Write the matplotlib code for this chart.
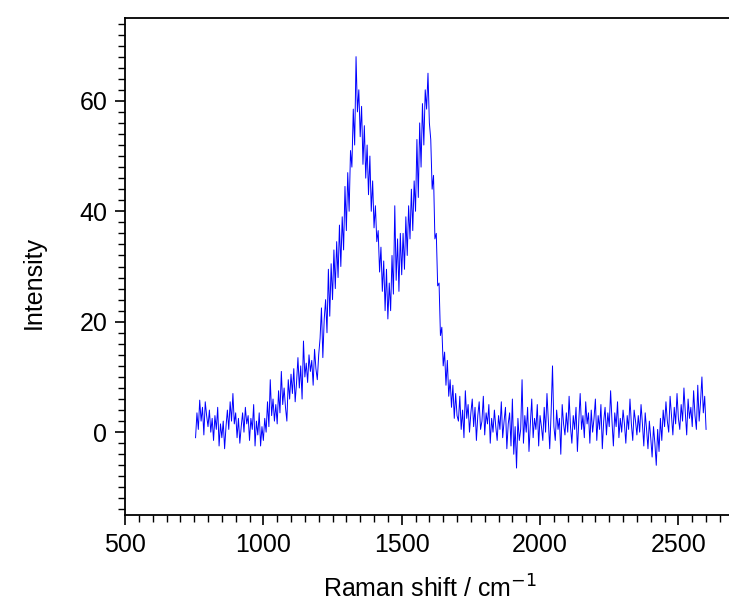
import numpy as np
import matplotlib
matplotlib.use("Agg")
import matplotlib.pyplot as plt
from matplotlib.ticker import MultipleLocator

plt.rcParams['font.family'] = ['Liberation Sans', 'DejaVu Sans']

# Raman shift start/step (cm^-1)
shift_start = 755
shift_step = 5

# Intensity values, by region
seg_baseline_low = [
    -1.0, 3.5, 0.5, 5.8, 2.0, 4.5, -0.5, 5.5, 3.0, 1.0,
    4.0, 0.0, 2.5, -1.5, 3.0, 0.5, 4.5, -2.5, 1.5, -1.0,
    2.0, -3.0, 1.0, 4.0, 0.5, 5.5, 2.0, 7.0, 1.5, 3.5,
    -1.0, 2.5, -2.0, 1.0, 3.5, 0.0, 4.5, 1.5, 3.0, -1.5,
    2.5, 0.5, 5.0, -2.5, 2.0, -0.5, 3.5, -2.5, 1.0, -1.5,
]
seg_rise1 = [
    2.5, 0.0, 5.5, 1.0, 9.5, 3.0, 6.0, 2.0, 5.0, 1.5,
    7.5, 3.5, 11.0, 5.0, 8.0, 4.5, 2.0, 9.5, 6.0, 10.5,
]
seg_shoulder = [
    7.0, 11.5, 5.5, 9.0, 13.5, 8.0, 12.0, 6.0, 16.5, 10.0,
    12.5, 9.0, 14.0, 11.0, 13.0, 8.5, 15.0, 11.5, 9.5, 14.0,
]
seg_rise2 = [
    17.0, 22.5, 13.5, 20.5, 24.0, 18.0, 29.5, 21.0, 30.5, 24.0,
    33.0, 26.0, 34.5, 28.0, 37.5, 30.0, 39.0, 33.0, 44.5, 36.5,
]
seg_d_band = [
    47.0, 40.0, 51.0, 48.0, 58.5, 52.0, 68.0, 58.0, 62.0, 53.5,
    59.0, 48.5, 55.5, 46.0, 52.0, 43.0, 50.0, 40.0, 45.5, 37.0,
]
seg_valley = [
    41.0, 34.5, 36.5, 29.0, 33.5, 25.5, 31.0, 22.0, 29.5, 20.5,
    27.0, 22.0, 32.0, 25.0, 41.0, 27.5, 35.0, 25.5, 36.0, 28.5,
]
seg_g_rise = [
    36.0, 29.5, 39.0, 32.0, 41.0, 35.0, 44.0, 36.5, 45.5, 40.0,
    53.0, 42.5, 56.0, 48.0, 59.5, 52.0, 62.0, 58.5, 65.0, 56.0,
]
seg_g_fall = [
    53.0, 44.0, 46.5, 35.0, 36.0, 26.5, 27.0, 17.5, 19.0, 12.0,
    14.5, 8.5, 13.0, 6.5, 9.5, 4.5, 8.5, 2.5, 7.0, 3.0,
]
seg_baseline_high = [
    2.0, 6.5, 0.5, 4.0, -1.0, 7.5, 2.5, 5.0, 0.0, 3.5,
    6.0, 1.0, 4.5, -1.5, 3.0, 5.5, 0.5, 2.0, 6.5, -0.5,
    3.5, 1.5, 5.0, -2.0, 2.5, 0.0, 4.0, 1.0, -1.5, 3.0,
    0.5, 5.5, -1.0, 2.0, 4.5, -3.0, 1.5, 3.5, -2.5, 6.0,
    -4.0, 1.0, -6.5, 2.5, -1.5, 0.5, 9.5, -2.0, 3.0, 0.0,
    4.5, -3.5, 1.5, 6.0, -1.0, 2.5, 0.5, 5.0, -2.5, 3.0,
    1.0, -1.5, 4.5, 0.0, 7.0, 2.0, -3.0, 3.5, 12.0, 1.0,
    -1.5, 4.0, 0.5, 2.5, -4.0, 5.0, 1.5, -0.5, 3.5, 0.0,
    6.5, 1.0, -2.0, 3.0, 0.5, 4.5, -3.5, 2.0, 7.0, 0.5,
    3.0, -1.0, 5.5, 1.5, 3.5, -2.0, 4.0, 0.0, 2.5, 6.0,
    -1.5, 3.0, 0.5, 5.0, -3.0, 2.0, 4.5, -0.5, 3.5, 1.0,
    7.5, 2.0, -2.5, 3.5, 1.0, 5.5, -1.0, 2.5, 0.0, 4.0,
    1.5, -2.0, 3.0, 0.5, 6.0, 1.5, -1.5, 4.0, 2.0, -0.5,
    3.0, 0.0, 5.0, 1.5, -2.5, 3.5, 0.5, -3.0, 2.0, -1.0,
    -4.5, 1.0, -2.0, -6.0, 0.5, -3.5, 2.5, -1.5, 4.0, 1.0,
    5.5, 2.0, 0.0, 6.5, 3.0, -0.5, 4.5, 1.5, 7.0, 2.5,
    0.5, 5.0, 2.0, 8.0, 3.5, -0.5, 6.0, 2.5, 4.5, 1.0,
    7.5, 3.0, 0.5, 8.5, 2.0, 5.5, 10.0, 3.5, 6.5, 0.5,
]

intensity = (seg_baseline_low + seg_rise1 + seg_shoulder + seg_rise2 + seg_d_band
             + seg_valley + seg_g_rise + seg_g_fall + seg_baseline_high)
shift = shift_start + shift_step * np.arange(len(intensity))

x_ticks = [500, 1000, 1500, 2000, 2500]
y_ticks = [0, 20, 40, 60]

W, H = 729, 603
fig = plt.figure(figsize=(W / 100, H / 100), dpi=100)
left, bottom, top = 125 / W, 1 - 515 / H, 1 - 18 / H
ax = fig.add_axes([left, bottom, 1.0 - left, top - bottom])

ax.plot(shift, intensity, color='#0000ff', linewidth=0.7)

ax.set_xlim(500, 500 + (W - 125) / 0.2767)
ax.set_ylim(-15, 75)
ax.set_xticks(x_ticks)
ax.set_yticks(y_ticks)
ax.xaxis.set_minor_locator(MultipleLocator(50))
ax.yaxis.set_minor_locator(MultipleLocator(2))

ax.spines['right'].set_visible(False)
for s in ['left', 'bottom', 'top']:
    ax.spines[s].set_linewidth(1.3)

ax.tick_params(which='major', direction='out', length=7.2, width=1.2, labelsize=18, pad=5.5)
ax.tick_params(which='minor', direction='out', length=4.8, width=1.0)
ax.tick_params(top=False, right=False)

ax.set_xlabel('Raman shift / cm$^{-1}$', fontsize=18, ha='left')
ax.set_ylabel('Intensity', fontsize=18)
ax.xaxis.set_label_coords((323 - 125) / (W - 125), -0.121)
ax.yaxis.set_label_coords((46 - 125) / (W - 125), 0.467)

fig.savefig('out.png', dpi=100)
